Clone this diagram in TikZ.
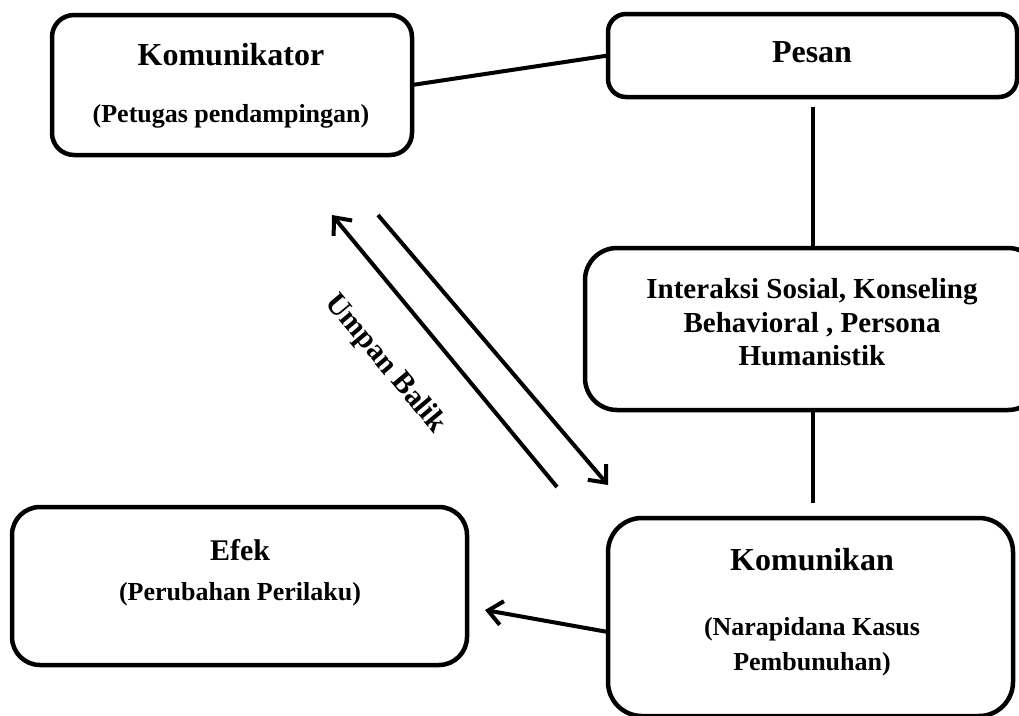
\documentclass[tikz,border=0pt]{standalone}
\usepackage{fontspec}
\setmainfont{Liberation Serif}
\usetikzlibrary{arrows.meta,calc}
\begin{document}
\begin{tikzpicture}[x=1pt,y=-1pt,
  box/.style={draw=black, line width=4.5pt, fill=white, inner sep=0pt, outer sep=0pt},
  conn/.style={draw=black, line width=4pt},
  arr/.style={draw=black, line width=4pt, -{Straight Barb[length=14pt,width=24pt]}},
  ttl/.style={font=\fontsize{32}{36}\selectfont\bfseries, inner sep=0pt, anchor=base},
  sub/.style={font=\fontsize{26}{30}\selectfont\bfseries, inner sep=0pt, anchor=base},
  mid/.style={font=\fontsize{29}{33}\selectfont\bfseries, inner sep=0pt, anchor=base}]
\useasboundingbox (0,0) rectangle (1019,715);
% boxes
\node[box, rounded corners=22pt, minimum width=360pt, minimum height=140pt] (kom) at (232,85) {};
\node[box, rounded corners=18pt, minimum width=409pt, minimum height=83pt] (pesan) at (812.5,55.5) {};
\node[box, rounded corners=32pt, minimum width=455pt, minimum height=162pt] (inter) at (812.5,329) {};
\node[box, rounded corners=34pt, minimum width=405pt, minimum height=198pt] (komunikan) at (810.5,617) {};
\node[box, rounded corners=28pt, minimum width=455pt, minimum height=158pt] (efek) at (239.5,586) {};
% texts
\node[ttl] (t1) at (231,65) {Komunikator};
\node[sub] (t2) at (231,122) {(Petugas pendampingan)};
\node[ttl] (t3) at (812,62) {Pesan};
\node[mid] (t4) at (812,298) {Interaksi Sosial, Konseling};
\node[mid] (t5) at (812,332) {Behavioral , Persona};
\node[mid] (t6) at (812,365) {Humanistik};
\node[ttl] (t7) at (812,570) {Komunikan};
\node[sub] (t8) at (812,635) {(Narapidana Kasus};
\node[sub] (t9) at (812,670) {Pembunuhan)};
\node[font=\fontsize{30}{34}\selectfont\bfseries, inner sep=0pt, anchor=base] (t10) at (240,560) {Efek};
\node[sub] (t11) at (240,600) {(Perubahan Perilaku)};
\node[font=\fontsize{30}{34}\selectfont\bfseries, inner sep=0pt, rotate=-50] (ub) at (385,364) {Umpan Balik};
% connectors
\draw[conn] (kom.east) -- (pesan.west);
\draw[conn, shorten <=10pt] (pesan.south) -- (inter.north);
\draw[conn, shorten >=15pt] (inter.south) -- (inter.south |- komunikan.north);
\draw[arr] ([yshift=-15pt]komunikan.west) -- ([xshift=18pt,yshift=-24pt]efek.east);
\coordinate (f1) at (557,487);
\coordinate (f2) at (332,215);
\coordinate (g1) at (378,215);
\coordinate (g2) at (608,485);
\draw[arr] (f1) -- (f2);
\draw[arr] (g1) -- (g2);
\end{tikzpicture}
\end{document}
